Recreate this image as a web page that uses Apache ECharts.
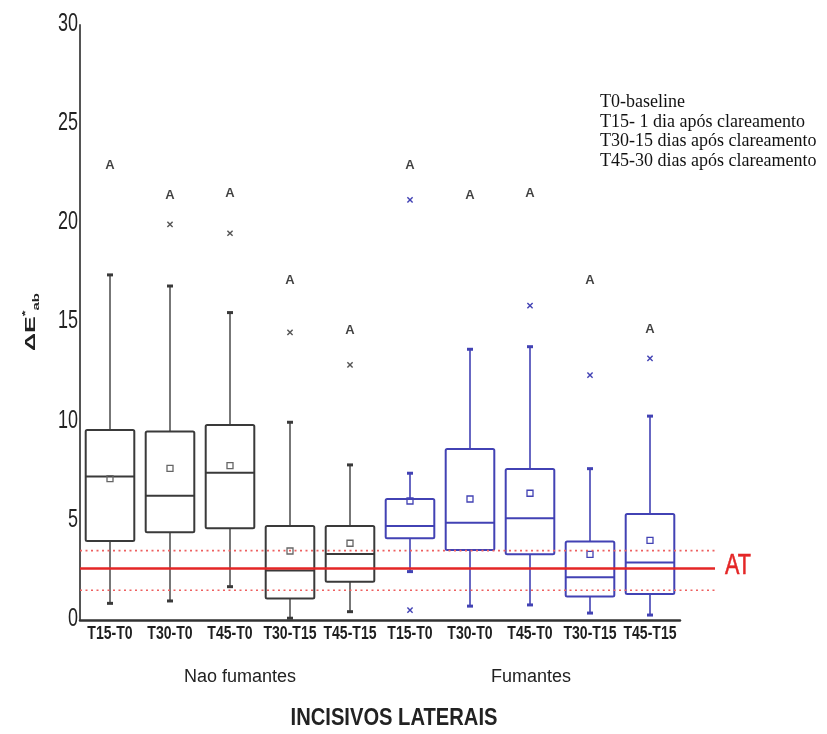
<!DOCTYPE html>
<html>
<head>
<meta charset="utf-8">
<script src="https://cdn.jsdelivr.net/npm/echarts@6/dist/echarts.min.js"></script>
<style>
  html, body { margin: 0; padding: 0; background: #fff; }
  #chart { width: 827px; height: 734px; }
</style>
</head>
<body>
<div id="chart"></div>
<script>
// Comparison categories (ΔE between sessions), five per group
const categories = ['T15-T0', 'T30-T0', 'T45-T0', 'T30-T15', 'T45-T15',
                    'T15-T0', 'T30-T0', 'T45-T0', 'T30-T15', 'T45-T15'];
const groupNames = ['Nao fumantes', 'Fumantes'];

// Box-plot statistics per category
const whiskerLow  = [0.84, 0.96, 1.68, 0.09, 0.42, 2.44, 0.70, 0.76, 0.35, 0.25];
const quartile1   = [3.98, 4.42, 4.62, 1.09, 1.93, 4.12, 3.53, 3.31, 1.19, 1.31];
const medians     = [7.23, 6.27, 7.43, 2.49, 3.33, 4.74, 4.90, 5.13, 2.16, 2.90];
const quartile3   = [9.58, 9.50, 9.83, 4.74, 4.74, 6.10, 8.62, 7.61, 3.96, 5.34];
const whiskerHigh = [17.4, 16.84, 15.5, 9.97, 7.82, 7.40, 13.65, 13.78, 7.63, 10.28];
const means       = [7.13, 7.65, 7.78, 3.48, 3.87, 6.00, 6.10, 6.39, 3.31, 4.01];

// Outliers: [category index, value]
const outliers = [[1, 19.95], [2, 19.5], [3, 14.5], [4, 12.86], [5, 21.18], [5, 0.5],
                  [7, 15.85], [8, 12.35], [9, 13.19]];

// Statistical grouping letters and the height they are printed at
const letters  = ['A', 'A', 'A', 'A', 'A', 'A', 'A', 'A', 'A', 'A'];
const letterY  = [22.9, 21.4, 21.5, 17.1, 14.6, 22.9, 21.4, 21.5, 17.1, 14.65];

// Acceptability threshold and its band
const atValue = 2.6;
const atBand = [1.5, 3.5];

// Legend notes
const notes = ['T0-baseline', 'T15- 1 dia após clareamento',
               'T30-15 dias após clareamento', 'T45-30 dias após clareamento'];

// Value axis
const yTicks = { min: 0, max: 30, interval: 5 };
const yTickValues = [0, 5, 10, 15, 20, 25, 30];

const SANS = '"Liberation Sans", Arial, sans-serif';
const grayInk = '#3a3a3a';
const grayWhisker = '#555555';
const blueInk = '#4242b4';
const red = '#e42626';

const boxData = categories.map((c, i) =>
  [i, whiskerLow[i], quartile1[i], medians[i], quartile3[i], whiskerHigh[i], means[i]]);

function renderBox(params, api) {
  const i = api.value(0);
  const lo = api.coord([i, api.value(1)]);
  const q1 = api.coord([i, api.value(2)]);
  const md = api.coord([i, api.value(3)]);
  const q3 = api.coord([i, api.value(4)]);
  const hi = api.coord([i, api.value(5)]);
  const mn = api.coord([i, api.value(6)]);
  const bw = api.size([1, 0])[0] * 0.81;
  const x = lo[0];
  const smoker = i >= 5;
  const boxColor = smoker ? blueInk : grayInk;
  const whColor = smoker ? blueInk : grayWhisker;
  const capW = 6;
  return {
    type: 'group',
    children: [
      { type: 'line', shape: { x1: x, y1: q3[1], x2: x, y2: hi[1] },
        style: { stroke: whColor, lineWidth: 1.6 } },
      { type: 'line', shape: { x1: x, y1: q1[1], x2: x, y2: lo[1] },
        style: { stroke: whColor, lineWidth: 1.6 } },
      { type: 'rect', shape: { x: x - capW / 2, y: hi[1] - 1.5, width: capW, height: 3 },
        style: { fill: boxColor } },
      { type: 'rect', shape: { x: x - capW / 2, y: lo[1] - 1.5, width: capW, height: 3 },
        style: { fill: boxColor } },
      { type: 'rect', shape: { x: x - bw / 2, y: q3[1], width: bw, height: q1[1] - q3[1], r: 1.5 },
        style: { fill: '#fff', stroke: boxColor, lineWidth: 2 } },
      { type: 'line', shape: { x1: x - bw / 2, y1: md[1], x2: x + bw / 2, y2: md[1] },
        style: { stroke: boxColor, lineWidth: 2 } },
      { type: 'rect', shape: { x: x - 3, y: mn[1] - 3, width: 6, height: 6 },
        style: { fill: 'none', stroke: smoker ? blueInk : '#666', lineWidth: 1.3 } }
    ]
  };
}

function renderOutlier(params, api) {
  const p = api.coord([api.value(0), api.value(1)]);
  const c = api.value(0) >= 5 ? blueInk : '#555';
  const s = 2.6;
  return {
    type: 'group',
    children: [
      { type: 'line', shape: { x1: p[0] - s, y1: p[1] - s, x2: p[0] + s, y2: p[1] + s },
        style: { stroke: c, lineWidth: 1.4 } },
      { type: 'line', shape: { x1: p[0] - s, y1: p[1] + s, x2: p[0] + s, y2: p[1] - s },
        style: { stroke: c, lineWidth: 1.4 } }
    ]
  };
}

function renderThreshold(params, api) {
  const cs = params.coordSys;
  const x1 = cs.x;
  const x2 = cs.x + cs.width + 35;
  const yAt = api.coord([0, api.value(0)])[1];
  const yLo = api.coord([0, api.value(1)])[1];
  const yHi = api.coord([0, api.value(2)])[1];
  return {
    type: 'group',
    children: [
      { type: 'line', shape: { x1, y1: yHi, x2, y2: yHi },
        style: { stroke: '#ee6060', lineWidth: 1.6, lineDash: [2, 3.5] } },
      { type: 'line', shape: { x1, y1: yLo, x2, y2: yLo },
        style: { stroke: '#ee6060', lineWidth: 1.6, lineDash: [2, 3.5] } },
      { type: 'line', shape: { x1, y1: yAt, x2, y2: yAt },
        style: { stroke: red, lineWidth: 2.5 } },
      { type: 'text', x: x2 + 10, y: yAt - 3, scaleX: 0.72,
        style: { text: 'AT', fill: red, font: '30px ' + SANS,
                 align: 'left', verticalAlign: 'middle', stroke: red, lineWidth: 0.6 } }
    ]
  };
}

// Category labels under the axis, set in a condensed face
function renderCategoryLabel(params, api) {
  const i = api.value(0);
  const p = api.coord([i, 0]);
  return {
    type: 'text', x: p[0], y: p[1] + 14, scaleX: 0.78,
    style: { text: categories[i], font: 'bold 18px ' + SANS, fill: '#1e1e1e',
             align: 'center', verticalAlign: 'middle' }
  };
}

// Value-axis tick labels, condensed
function renderTickLabel(params, api) {
  const v = api.value(1);
  const p = api.coord([0, v]);
  return {
    type: 'text', x: params.coordSys.x - 2, y: p[1] - 1, scaleX: 0.72,
    style: { text: String(v), font: '25px ' + SANS, fill: '#222',
             align: 'right', verticalAlign: 'middle' }
  };
}

const chart = echarts.init(document.getElementById('chart'), null, { renderer: 'canvas' });

chart.setOption({
  animation: false,
  backgroundColor: '#fff',
  grid: { left: 80, right: 147, top: 25, bottom: 114, containLabel: false },
  xAxis: {
    type: 'category',
    data: categories,
    boundaryGap: true,
    axisLine: { show: true, lineStyle: { color: '#333', width: 2.5 } },
    axisTick: { show: false },
    splitLine: { show: false },
    axisLabel: { show: false }
  },
  yAxis: {
    type: 'value',
    min: yTicks.min, max: yTicks.max, interval: yTicks.interval,
    axisLine: { show: true, lineStyle: { color: '#555', width: 2 } },
    axisTick: { show: false },
    splitLine: { show: false },
    axisLabel: { show: false }
  },
  series: [
    {
      name: 'box', type: 'custom', renderItem: renderBox,
      data: boxData, encode: { x: 0, y: [1, 2, 3, 4, 5, 6] }, z: 2
    },
    {
      name: 'outliers', type: 'custom', renderItem: renderOutlier,
      data: outliers, encode: { x: 0, y: 1 }, z: 3
    },
    {
      name: 'letters', type: 'scatter', symbolSize: 0,
      data: letterY.map((v, i) => [i, v, letters[i]]),
      label: {
        show: true, position: 'inside', color: '#111',
        fontFamily: SANS, fontWeight: 'bold', fontSize: 13,
        formatter: p => p.data[2]
      },
      z: 3
    },
    {
      name: 'AT', type: 'custom', renderItem: renderThreshold,
      data: [[atValue, atBand[0], atBand[1]]], encode: { y: [0, 1, 2] },
      clip: false, z: 5
    },
    {
      name: 'categoryLabels', type: 'custom', renderItem: renderCategoryLabel,
      data: categories.map((c, i) => [i, 0]), encode: { x: 0, y: 1 },
      clip: false, silent: true, z: 4
    },
    {
      name: 'tickLabels', type: 'custom', renderItem: renderTickLabel,
      data: yTickValues.map(v => [0, v]), encode: { x: 0, y: 1 },
      clip: false, silent: true, z: 4
    }
  ],
  graphic: [
    {
      type: 'text', x: 31, y: 322, rotation: Math.PI / 2, scaleY: 0.58,
      style: {
        text: '{m|ΔE}{s|*}{b|ab}', align: 'center', verticalAlign: 'middle',
        fill: '#222',
        rich: {
          m: { fontFamily: SANS, fontWeight: 'bold', fontSize: 25, lineHeight: 34, verticalAlign: 'middle' },
          s: { fontFamily: SANS, fontWeight: 'bold', fontSize: 15, lineHeight: 34, verticalAlign: 'top' },
          b: { fontFamily: SANS, fontWeight: 'bold', fontSize: 15, lineHeight: 34, verticalAlign: 'bottom' }
        }
      }
    },
    {
      type: 'text', x: 240, y: 677,
      style: { text: groupNames[0], font: '18px ' + SANS, fill: '#222',
               align: 'center', verticalAlign: 'middle' }
    },
    {
      type: 'text', x: 531, y: 677,
      style: { text: groupNames[1], font: '18px ' + SANS, fill: '#222',
               align: 'center', verticalAlign: 'middle' }
    },
    {
      type: 'text', x: 394, y: 718, scaleX: 0.84,
      style: { text: 'INCISIVOS LATERAIS', font: 'bold 24px ' + SANS, fill: '#222',
               align: 'center', verticalAlign: 'middle' }
    },
    {
      type: 'text', x: 600, y: 92.5,
      style: { text: notes.join('\n'), font: '18px "Liberation Serif", "Times New Roman", serif',
               lineHeight: 19.7, fill: '#111', align: 'left', verticalAlign: 'top' }
    }
  ]
});
</script>
</body>
</html>
